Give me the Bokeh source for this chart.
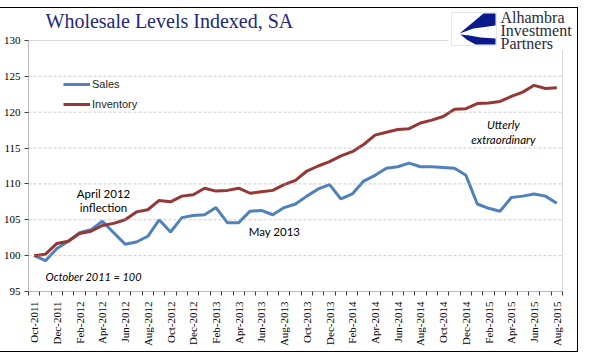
import math
from bokeh.plotting import figure
from bokeh.models import FixedTicker, Label, BoxAnnotation, PolyAnnotation, Range1d
from bokeh.embed import file_html
from bokeh.resources import INLINE

months = ["Oct-2011", "Nov-2011", "Dec-2011", "Jan-2012", "Feb-2012", "Mar-2012",
          "Apr-2012", "May-2012", "Jun-2012", "Jul-2012", "Aug-2012", "Sep-2012",
          "Oct-2012", "Nov-2012", "Dec-2012", "Jan-2013", "Feb-2013", "Mar-2013",
          "Apr-2013", "May-2013", "Jun-2013", "Jul-2013", "Aug-2013", "Sep-2013",
          "Oct-2013", "Nov-2013", "Dec-2013", "Jan-2014", "Feb-2014", "Mar-2014",
          "Apr-2014", "May-2014", "Jun-2014", "Jul-2014", "Aug-2014", "Sep-2014",
          "Oct-2014", "Nov-2014", "Dec-2014", "Jan-2015", "Feb-2015", "Mar-2015",
          "Apr-2015", "May-2015", "Jun-2015", "Jul-2015", "Aug-2015"]

sales = [100.0, 99.3, 101.0, 102.0, 103.2, 103.6, 104.8, 103.2, 101.6, 101.9,
         102.7, 105.0, 103.3, 105.3, 105.6, 105.7, 106.7, 104.6, 104.6, 106.2,
         106.3, 105.7, 106.7, 107.2, 108.3, 109.3, 109.9, 107.9, 108.6, 110.4,
         111.2, 112.2, 112.4, 112.9, 112.4, 112.4, 112.3, 112.2, 111.2, 107.2,
         106.6, 106.2, 108.1, 108.3, 108.6, 108.3, 107.3]

inventory = [100.0, 100.2, 101.7, 102.0, 103.1, 103.4, 104.2, 104.5, 105.0, 106.1,
             106.4, 107.7, 107.5, 108.3, 108.5, 109.4, 109.0, 109.1, 109.4, 108.7,
             108.9, 109.1, 109.9, 110.5, 111.8, 112.5, 113.1, 113.9, 114.5, 115.5,
             116.8, 117.2, 117.6, 117.7, 118.5, 118.9, 119.4, 120.4, 120.5, 121.2,
             121.3, 121.5, 122.2, 122.8, 123.75, 123.3, 123.4]

y_ticks = [95, 100, 105, 110, 115, 120, 125, 130]
label_idx = list(range(0, len(months), 2))
boundaries = [i - 0.5 for i in range(len(months) + 1)]
x = list(range(len(months)))

SERIF = "Liberation Serif"
Y_MIN, Y_MAX = 95, 130
PLOT_H = 251          # px height of the 95..130 plot area
PLOT_W = 534          # px width of the plot area
HEAD = 32             # px of header space above the plot area (inside the frame)
TAIL = 15             # px of space right of the plot area (inside the frame)
X_MIN, X_MAX = -0.5, len(months) - 0.5
y_top = Y_MAX + HEAD * (Y_MAX - Y_MIN) / PLOT_H
x_right = X_MAX + TAIL * (X_MAX - X_MIN) / PLOT_W

p = figure(frame_width=PLOT_W + TAIL, frame_height=PLOT_H + HEAD,
           min_border_left=27, min_border_right=0, min_border_top=0, min_border_bottom=60,
           x_range=Range1d(X_MIN, x_right), y_range=Range1d(Y_MIN, y_top),
           output_backend="svg", toolbar_location=None, tools="")
p.styles = {"outline": "1px solid black", "margin-top": "8px"}
p.background_fill_color = "white"
p.border_fill_color = "white"
p.outline_line_color = None

# y axis
p.yaxis.ticker = FixedTicker(ticks=y_ticks)
p.yaxis.major_label_text_font = SERIF
p.yaxis.major_label_text_font_size = "11px"
p.yaxis.major_label_text_color = "black"
p.yaxis.axis_line_color = None
p.yaxis.major_tick_line_color = "#404040"
p.yaxis.major_tick_out = 4
p.yaxis.major_tick_in = 0
p.yaxis.minor_tick_line_color = None
p.yaxis.major_label_standoff = 4

# x axis
p.xaxis.ticker = FixedTicker(ticks=label_idx, minor_ticks=boundaries)
p.xaxis.major_label_overrides = {i: months[i] for i in label_idx}
p.xaxis.major_label_orientation = math.pi / 2
p.xaxis.major_label_text_font = SERIF
p.xaxis.major_label_text_font_size = "11px"
p.xaxis.major_label_text_color = "black"
p.xaxis.major_tick_line_color = None
p.xaxis.minor_tick_line_color = "#404040"
p.xaxis.minor_tick_out = 4
p.xaxis.minor_tick_in = 0
p.xaxis.axis_line_color = None
p.xaxis.major_label_standoff = 4

p.xgrid.grid_line_color = None
p.ygrid.grid_line_color = None

# dashed horizontal gridlines limited to the plot area
for yt in y_ticks[1:-1]:
    p.add_layout(BoxAnnotation(left=X_MIN, right=X_MAX, bottom=yt, top=yt, fill_alpha=0,
                               line_color="#a6a6a6", line_dash="3 2", line_width=1))

# plot-area border and axis lines
p.add_layout(BoxAnnotation(left=X_MIN, right=X_MAX, bottom=Y_MIN, top=Y_MAX,
                           fill_alpha=0, line_color="#7f7f7f", line_width=1))
p.add_layout(BoxAnnotation(left=X_MIN, right=X_MIN, bottom=Y_MIN, top=Y_MAX,
                           fill_alpha=0, line_color="#404040", line_width=1))
p.add_layout(BoxAnnotation(left=X_MIN, right=X_MAX, bottom=Y_MIN, top=Y_MIN,
                           fill_alpha=0, line_color="#404040", line_width=1))

p.line(x, sales, line_color="#4f81bd", line_width=3, legend_label="Sales")
p.line(x, inventory, line_color="#953735", line_width=3, legend_label="Inventory")

lg = p.legend[0]
lg.location = (35, 177)
lg.border_line_color = None
lg.background_fill_alpha = 0
lg.glyph_width = 27
lg.glyph_height = 20
lg.label_height = 20
lg.label_standoff = 2
lg.spacing = 0
lg.padding = 0
lg.margin = 0
lg.label_text_font = "Liberation Sans"
lg.label_text_font_size = "11px"
lg.label_text_color = "#262626"

ann_font = "Lato"
def txt(xv, yv, s, italic=False, align="center", size="11.5px"):
    p.add_layout(Label(x=xv, y=yv, text=s, text_font=ann_font, text_font_size=size,
                       text_align=align, text_baseline="middle", text_color="black",
                       text_font_style="italic" if italic else "normal"))

txt(6.1, 108.67, "April 2012")
txt(6.1, 106.7, "inflection")
txt(21.15, 103.4, "May 2013")
txt(1.0, 97.1, "October 2011 = 100", italic=True, align="left", size="11px")
txt(41.3, 118.3, "Utterly", italic=True)
txt(41.3, 116.2, "extraordinary", italic=True)

# title (screen units relative to frame: x from left, y from bottom)
p.add_layout(Label(x=17, y=271, x_units="screen", y_units="screen",
                   text="Wholesale Levels Indexed, SA", text_font=SERIF,
                   text_font_size="20px", text_color="#23297a", text_baseline="middle"))

# logo
p.add_layout(BoxAnnotation(left=420, right=548, top=283, bottom=241,
                           left_units="screen", right_units="screen",
                           top_units="screen", bottom_units="screen",
                           fill_color="white", fill_alpha=1, line_color=None))
p.add_layout(BoxAnnotation(left=423, right=468, top=279, bottom=246,
                           left_units="screen", right_units="screen",
                           top_units="screen", bottom_units="screen",
                           fill_color="white", fill_alpha=1, line_color="#b0b0b0",
                           line_width=1))
p.add_layout(PolyAnnotation(xs=[467, 455, 431, 445, 467], ys=[278, 278, 258, 263, 266],
                            xs_units="screen", ys_units="screen",
                            fill_color="#0a1a8c", fill_alpha=1, line_color=None))
p.add_layout(PolyAnnotation(xs=[432, 438, 447, 467, 467, 452, 441], ys=[257, 252, 247, 247, 253, 254, 256],
                            xs_units="screen", ys_units="screen",
                            fill_color="#0a1a8c", fill_alpha=1, line_color=None))
for i, s in enumerate(["Alhambra", "Investment", "Partners"]):
    p.add_layout(Label(x=472, y=274 - 13 * i, x_units="screen", y_units="screen",
                       text=s, text_font=SERIF, text_font_size="16px",
                       text_color="#2a2a3a", text_baseline="middle"))

open("out.html", "w").write(file_html(p, INLINE))
